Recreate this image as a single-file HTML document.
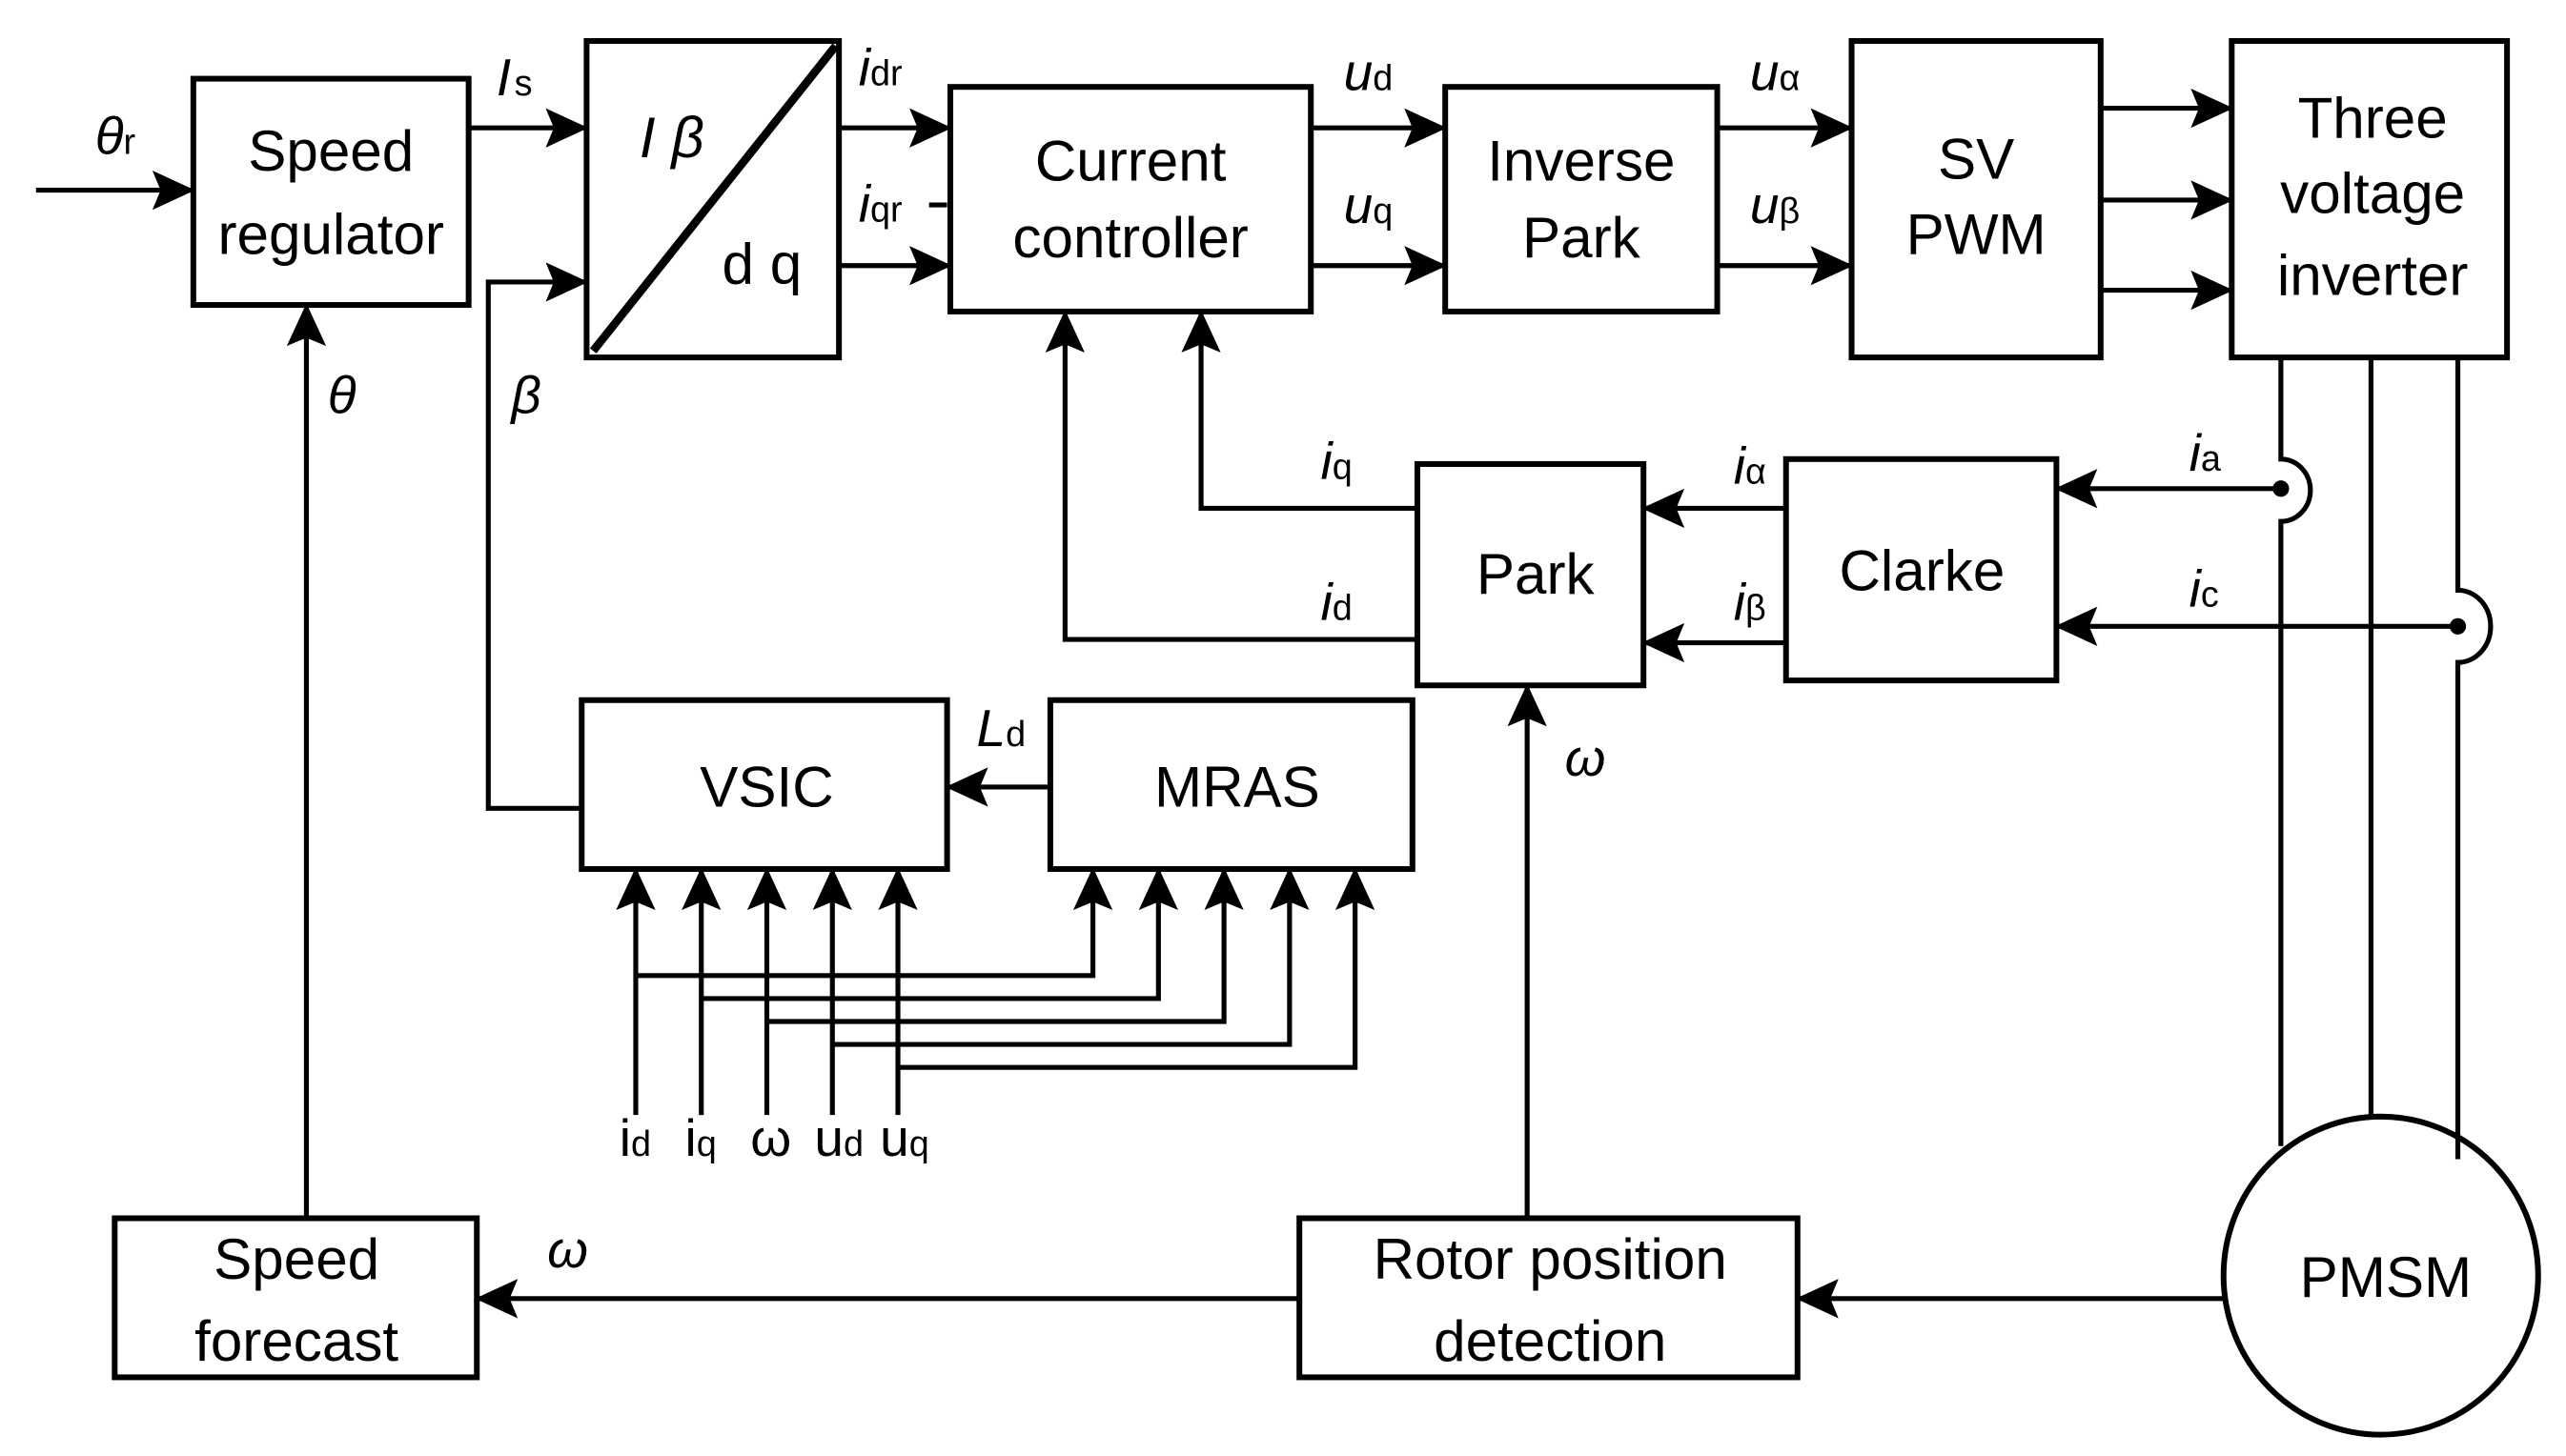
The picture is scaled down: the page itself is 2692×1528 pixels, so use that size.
<!DOCTYPE html>
<html><head><meta charset="utf-8"><style>
html,body{margin:0;padding:0;background:#fff;}
svg{display:block;}
text{font-family:"Liberation Sans",Arial,sans-serif;fill:#000;}
.b{font-size:35px;text-anchor:middle;}
.l{font-size:32px;font-style:italic;}
.s{font-size:22px;font-style:normal;}
</style></head><body>
<svg width="2692" height="1528" viewBox="0 0 1566 888" preserveAspectRatio="none" xmlns="http://www.w3.org/2000/svg">
<defs>
<marker id="A" markerWidth="26" markerHeight="24" refX="25" refY="12" orient="auto" markerUnits="userSpaceOnUse"><path d="M0,0 L26,12 L0,24 L5,12 Z" fill="#000"/></marker></defs>
<g fill="none" stroke="#000" stroke-width="3.5">
<rect x="118" y="48" width="168" height="138"/>
<rect x="358" y="25" width="154" height="193"/>
<line x1="362" y1="214" x2="510" y2="28" stroke-width="5"/>
<rect x="580" y="53" width="220" height="137"/>
<rect x="882" y="53" width="166" height="137"/>
<rect x="1130" y="25" width="152" height="193"/>
<rect x="1362" y="25" width="168" height="193"/>
<rect x="865" y="283" width="138" height="135"/>
<rect x="1090" y="280" width="165" height="135"/>
<rect x="355" y="427" width="223" height="103"/>
<rect x="641" y="427" width="221" height="103"/>
<rect x="70" y="743" width="221" height="97"/>
<rect x="793" y="743" width="304" height="97"/>
<ellipse cx="1453" cy="778" rx="96" ry="97"/>
</g>
<g fill="none" stroke="#000" stroke-width="3" marker-end="url(#A)">
<line x1="22" y1="116" x2="118" y2="116"/>
<line x1="286" y1="78" x2="358" y2="78"/>
<polyline points="355,493 298,493 298,172 358,172"/>
<line x1="512" y1="78" x2="580" y2="78"/>
<line x1="512" y1="162" x2="580" y2="162"/>
<line x1="800" y1="78" x2="882" y2="78"/>
<line x1="800" y1="162" x2="882" y2="162"/>
<line x1="1048" y1="78" x2="1130" y2="78"/>
<line x1="1048" y1="162" x2="1130" y2="162"/>
<line x1="1282" y1="66" x2="1362" y2="66"/>
<line x1="1282" y1="122" x2="1362" y2="122"/>
<line x1="1282" y1="177" x2="1362" y2="177"/>
<line x1="1392" y1="298" x2="1255" y2="298"/>
<line x1="1500" y1="382" x2="1255" y2="382"/>
<line x1="1090" y1="310" x2="1003" y2="310"/>
<line x1="1090" y1="392" x2="1003" y2="392"/>
<polyline points="865,310 733,310 733,190"/>
<polyline points="865,390 650,390 650,190"/>
<line x1="932" y1="743" x2="932" y2="418"/>
<line x1="641" y1="480" x2="578" y2="480"/>
<line x1="187" y1="743" x2="187" y2="186"/>
<line x1="1357" y1="792" x2="1097" y2="792"/>
<line x1="793" y1="792" x2="291" y2="792"/>
<line x1="388" y1="680" x2="388" y2="530"/>
<line x1="428" y1="680" x2="428" y2="530"/>
<line x1="468" y1="680" x2="468" y2="530"/>
<line x1="508" y1="680" x2="508" y2="530"/>
<line x1="548" y1="680" x2="548" y2="530"/>
<polyline points="388,595 667,595 667,530"/>
<polyline points="428,609 707,609 707,530"/>
<polyline points="468,623 747,623 747,530"/>
<polyline points="508,637 787,637 787,530"/>
<polyline points="548,651 827,651 827,530"/>
</g>
<g fill="none" stroke="#000" stroke-width="3">
<path d="M1392,218 V280 A18,19 0 0 1 1392,318 V699"/>
<line x1="1447" y1="218" x2="1447" y2="681"/>
<path d="M1500,218 V360 A20,22 0 0 1 1500,404 V707"/>
<line x1="567" y1="125" x2="578" y2="125"/>
</g>
<circle cx="1392" cy="298" r="5" fill="#000"/>
<circle cx="1500" cy="382" r="5" fill="#000"/>
<text class="b" x="202" y="104">Speed</text>
<text class="b" x="202" y="155">regulator</text>
<text class="b" x="690" y="110">Current</text>
<text class="b" x="690" y="157">controller</text>
<text class="b" x="965" y="110">Inverse</text>
<text class="b" x="965" y="157">Park</text>
<text class="b" x="1206" y="109">SV</text>
<text class="b" x="1206" y="155">PWM</text>
<text class="b" x="1448" y="84">Three</text>
<text class="b" x="1448" y="130">voltage</text>
<text class="b" x="1448" y="180">inverter</text>
<text class="b" x="937" y="362">Park</text>
<text class="b" x="1173" y="360">Clarke</text>
<text class="b" x="468" y="492">VSIC</text>
<text class="b" x="755" y="492">MRAS</text>
<text class="b" x="181" y="780">Speed</text>
<text class="b" x="181" y="830">forecast</text>
<text class="b" x="946" y="780">Rotor position</text>
<text class="b" x="946" y="830">detection</text>
<text class="b" x="1456" y="791">PMSM</text>
<text class="b" x="410" y="96" style="font-style:italic">I β</text>
<text class="b" x="465" y="173">d q</text>
<text class="l" x="58" y="94">θ<tspan class="s">r</tspan></text>
<text class="l" x="303" y="58">I<tspan class="s" dx="2">s</tspan></text>
<text class="l" x="200" y="252">θ</text>
<text class="l" x="312" y="252">β</text>
<text class="l" x="524" y="52">i<tspan class="s">dr</tspan></text>
<text class="l" x="524" y="135">i<tspan class="s">qr</tspan></text>
<text class="l" x="820" y="55">u<tspan class="s">d</tspan></text>
<text class="l" x="820" y="136">u<tspan class="s">q</tspan></text>
<text class="l" x="1068" y="55">u<tspan class="s">α</tspan></text>
<text class="l" x="1068" y="136">u<tspan class="s">β</tspan></text>
<text class="l" x="1336" y="287">i<tspan class="s">a</tspan></text>
<text class="l" x="1336" y="370">i<tspan class="s">c</tspan></text>
<text class="l" x="1058" y="295">i<tspan class="s">α</tspan></text>
<text class="l" x="1058" y="378">i<tspan class="s">β</tspan></text>
<text class="l" x="806" y="292">i<tspan class="s">q</tspan></text>
<text class="l" x="806" y="378">i<tspan class="s">d</tspan></text>
<text class="l" x="955" y="473">ω</text>
<text class="l" x="596" y="455">L<tspan class="s">d</tspan></text>
<text class="l" x="334" y="773">ω</text>
<text x="378" y="705" style="font-size:32px">i<tspan class="s">d</tspan></text>
<text x="418" y="705" style="font-size:32px">i<tspan class="s">q</tspan></text>
<text x="458" y="705" style="font-size:32px">ω</text>
<text x="497" y="705" style="font-size:32px">u<tspan class="s">d</tspan></text>
<text x="537" y="705" style="font-size:32px">u<tspan class="s">q</tspan></text>
</svg>
</body></html>
